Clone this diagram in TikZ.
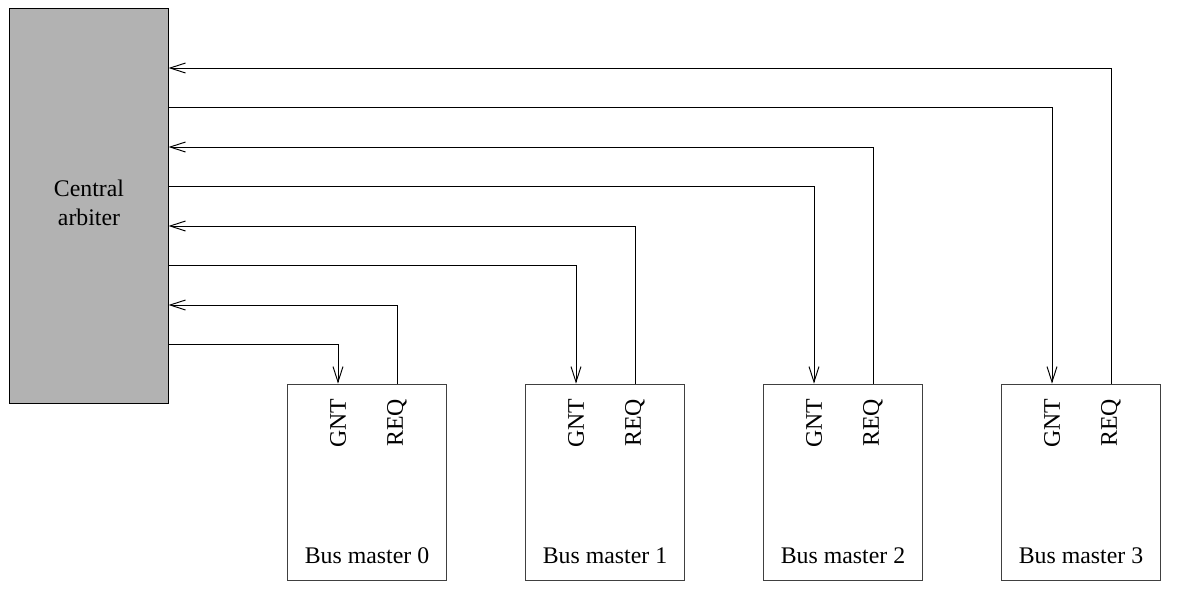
\documentclass[tikz,border=0pt]{standalone}
\usepackage{fontspec}
\setmainfont{Liberation Serif}
\usetikzlibrary{arrows.meta,positioning}

\begin{document}
\begin{tikzpicture}[
		x=0.42pt, y=-0.42pt,
		arbiter/.style={
			draw,
			fill=black!30,
			minimum width=66.4pt,
			minimum height=165.9pt,
			align=center,
			inner sep=0pt
		},
		master/.style={
			draw=black!75,
			minimum width=66.4pt,
			minimum height=82.7pt,
			inner sep=0pt
		},
		sig/.style={
			rotate=90,
			inner sep=0pt
		},
		>={Straight Barb[length=6.5pt,width=4.2pt]}
		]
		\useasboundingbox (0,0) rectangle (1179,594);
		\node[arbiter] (arb) at (89,205.5) {};
		\node[align=center, inner sep=0pt] (arbname) at (89,203) {Central\\arbiter};
		\foreach \i in {0,...,3}
		{
			\node[master] (m\i) at ({367+238*\i},482.5) {};
			\node[above=7.5pt of m\i.south, anchor=base] (name\i) {Bus master \i};
			\node[sig] (gnt\i) at ({338+238*\i},423) {GNT};
			\node[sig] (req\i) at ({397+238*\i},423) {REQ};
			\coordinate (gy\i) at (0,{344-79*\i});
			\coordinate (ry\i) at (0,{305-79*\i});
			\draw[->] (arb.east |- gy\i) -| (m\i.north -| gnt\i);
			\draw[->] (m\i.north -| req\i) |- (arb.east |- ry\i);
		}
\end{tikzpicture}
\end{document}
